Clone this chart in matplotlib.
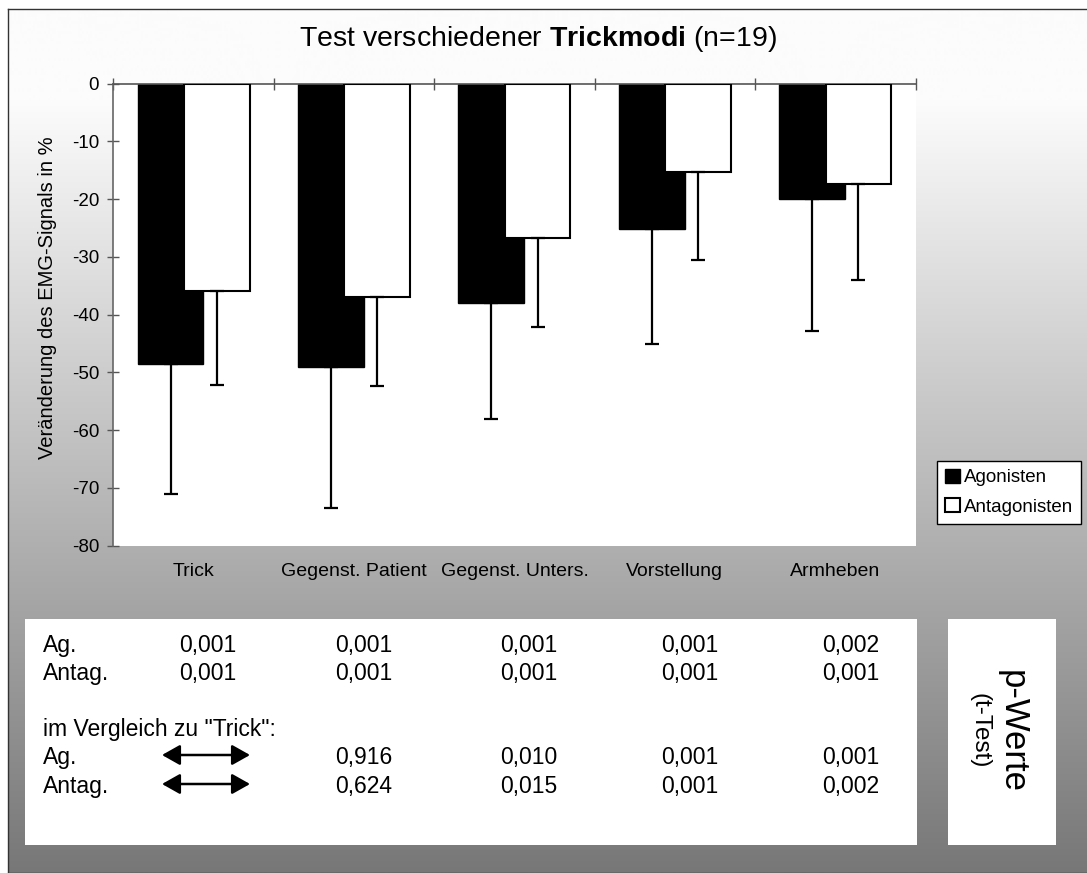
import numpy as np
import matplotlib
matplotlib.use('Agg')
import matplotlib.pyplot as plt
from matplotlib.patches import Rectangle, FancyArrowPatch

plt.rcParams['font.family'] = ['Liberation Sans', 'DejaVu Sans']
plt.rcParams['axes.unicode_minus'] = False
plt.rcParams['mathtext.fontset'] = 'custom'
plt.rcParams['mathtext.rm'] = 'Liberation Sans'
plt.rcParams['mathtext.bf'] = 'Liberation Sans:bold'

# Daten
categories = ['Trick', 'Gegenst. Patient', 'Gegenst. Unters.', 'Vorstellung', 'Armheben']
ag_mean = [-48.6, -49.0, -37.9, -25.2, -19.9]
ag_sd = [22.5, 24.4, 20.2, 19.8, 23.0]
antag_mean = [-35.9, -36.9, -26.8, -15.3, -17.3]
antag_sd = [16.2, 15.4, 15.3, 15.3, 16.7]

# p-Werte (t-Test)
p_ag = ['0,001', '0,001', '0,001', '0,001', '0,002']
p_antag = ['0,001', '0,001', '0,001', '0,001', '0,001']
p_ag_vs_trick = ['0,916', '0,010', '0,001', '0,001']
p_antag_vs_trick = ['0,624', '0,015', '0,001', '0,002']

W, H = 1087, 873
fig = plt.figure(figsize=(W / 100, H / 100), dpi=100, facecolor='white')


def fx(px):
    return px / W


def fy(py):
    return 1 - py / H


# Hintergrund mit Farbverlauf
bg = fig.add_axes([fx(8), 0, 1, fy(9)], zorder=-10)
rows = np.arange(9, H + 1)
shade = np.where(rows < 100, 252, 252 - (rows - 100) * (133 / 773)) / 255
grad = np.repeat(shade[:, None], 2, axis=1)
bg.imshow(np.dstack([grad, grad, grad]), aspect='auto', extent=[0, 1, 0, 1])
bg.set_xticks([])
bg.set_yticks([])
for s in bg.spines.values():
    s.set_color('#333333')
    s.set_linewidth(1)

# Diagramm
ax = fig.add_axes([fx(113.4), fy(545.7), fx(915.5) - fx(113.4), fy(83.7) - fy(545.7)])
ax.set_facecolor('white')
x = np.arange(len(categories))
w = 0.41
off = 0.144
ax.bar(x - off, ag_mean, w, color='black', edgecolor='black', linewidth=1, zorder=2, label='Agonisten')
ax.bar(x + off, antag_mean, w, color='white', edgecolor='black', linewidth=1.5, zorder=3, label='Antagonisten')
ax.errorbar(x - off, ag_mean, yerr=[ag_sd, np.zeros(len(x))], fmt='none', ecolor='black',
            elinewidth=1.6, capsize=5, capthick=1.6, zorder=4)
ax.errorbar(x + off, antag_mean, yerr=[antag_sd, np.zeros(len(x))], fmt='none', ecolor='black',
            elinewidth=1.6, capsize=5, capthick=1.6, zorder=4)

ax.set_xlim(-0.5, len(categories) - 0.5)
ax.set_ylim(-80, 0)
ax.set_yticks(np.arange(-80, 1, 10))
ax.set_xticks(x)
ax.set_xticklabels(categories, fontsize=14)
ax.set_xticks(np.arange(-0.5, len(categories), 1), minor=True)
ax.tick_params(axis='y', direction='inout', length=8.6, width=1, color='#555555', labelsize=13.5, pad=6)
ax.tick_params(axis='x', which='major', length=0, pad=12.5)
ax.tick_params(axis='x', which='minor', top=True, bottom=False, direction='inout', length=8, width=1, color='#555555')
for side in ['right', 'bottom']:
    ax.spines[side].set_visible(False)
ax.spines['left'].set_color('#666666')
ax.spines['top'].set_color('#555555')
ax.spines['left'].set_linewidth(1.2)
ax.spines['top'].set_linewidth(1.2)

fig.text(fx(48), fy(298), 'Veränderung des EMG-Signals in %', rotation=90, fontsize=14.5,
         ha='center', va='center')
fig.text(fx(538), fy(46), r'Test verschiedener $\mathbf{Trickmodi}$ (n=19)', fontsize=20.5,
         ha='center', va='baseline')

leg = ax.legend(loc='upper left', bbox_to_anchor=(fx(937), fy(461)), bbox_transform=fig.transFigure,
                fontsize=13.5, frameon=True, fancybox=False, framealpha=1, edgecolor='black',
                handlelength=0.8, handleheight=0.75, handletextpad=0.2, borderpad=0.42,
                labelspacing=0.65, borderaxespad=0)
leg.get_frame().set_linewidth(1)

# Tabelle mit p-Werten
fig.add_artist(Rectangle((fx(25), fy(845)), fx(917) - fx(25), fy(619) - fy(845),
                         transform=fig.transFigure, facecolor='white', edgecolor='none'))
fig.add_artist(Rectangle((fx(948), fy(845)), fx(1056) - fx(948), fy(619) - fy(845),
                         transform=fig.transFigure, facecolor='white', edgecolor='none'))

col_x = [236, 392, 557, 718, 879]
tfs = 16.5
row_y = [652, 680, 736, 764, 793]
fig.text(fx(43), fy(row_y[0]), 'Ag.', fontsize=tfs, va='baseline')
fig.text(fx(43), fy(row_y[1]), 'Antag.', fontsize=tfs, va='baseline')
for cx, v in zip(col_x, p_ag):
    fig.text(fx(cx), fy(row_y[0]), v, fontsize=tfs, ha='right', va='baseline')
for cx, v in zip(col_x, p_antag):
    fig.text(fx(cx), fy(row_y[1]), v, fontsize=tfs, ha='right', va='baseline')
fig.text(fx(43), fy(row_y[2]), 'im Vergleich zu "Trick":', fontsize=tfs, va='baseline')
fig.text(fx(43), fy(row_y[3]), 'Ag.', fontsize=tfs, va='baseline')
fig.text(fx(43), fy(row_y[4]), 'Antag.', fontsize=tfs, va='baseline')
for cx, v in zip(col_x[1:], p_ag_vs_trick):
    fig.text(fx(cx), fy(row_y[3]), v, fontsize=tfs, ha='right', va='baseline')
for cx, v in zip(col_x[1:], p_antag_vs_trick):
    fig.text(fx(cx), fy(row_y[4]), v, fontsize=tfs, ha='right', va='baseline')
for ay in [755, 784]:
    fig.add_artist(FancyArrowPatch((fx(162), fy(ay)), (fx(250), fy(ay)), transform=fig.transFigure,
                                   arrowstyle='<|-|>,head_length=1.1,head_width=0.62',
                                   mutation_scale=10, linewidth=1.8, color='black',
                                   shrinkA=0, shrinkB=0))

fig.text(fx(1012), fy(731), 'p-Werte', rotation=270, fontsize=25, ha='center', va='center')
fig.text(fx(979), fy(731), '(t-Test)', rotation=270, fontsize=17.5, ha='center', va='center')

fig.savefig('out.png', dpi=100, facecolor='white')
